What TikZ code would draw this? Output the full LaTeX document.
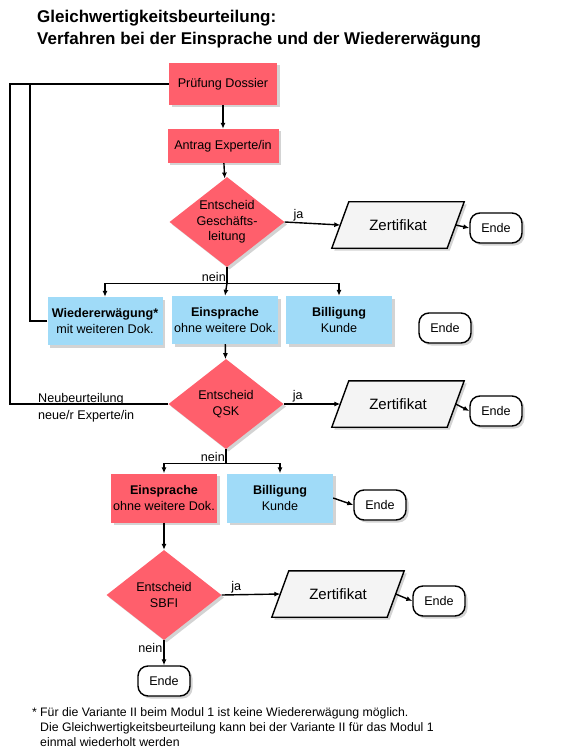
\documentclass[tikz,border=0pt]{standalone}
\usepackage{fontspec}
\setmainfont{Liberation Sans}
\definecolor{boxred}{RGB}{255,95,108}
\definecolor{boxblue}{RGB}{160,219,248}
\definecolor{docgray}{RGB}{244,244,244}
\usetikzlibrary{arrows.meta,positioning,shapes.geometric,shadows,backgrounds}
\newcommand{\bodyfont}{\fontsize{12.6}{15.5}\selectfont}

\begin{document}
\begin{tikzpicture}[x=1pt, y=-1pt,
      arr/.style={-{Latex[length=6pt,width=5pt]}, line width=1.4pt},
      plain/.style={line width=1.4pt},
      shade/.style={drop shadow={shadow xshift=2.5pt, shadow yshift=-2.5pt,
                    opacity=0.35}},
      redbox/.style={rectangle, fill=boxred, align=center, font=\bodyfont,
                     inner sep=2pt, shade},
      bluebox/.style={rectangle, fill=boxblue, align=center, font=\bodyfont,
                      inner sep=2pt, shade},
      decision/.style={diamond, fill=boxred, minimum width=115pt,
                       minimum height=90pt, inner sep=0pt, shade},
      dtext/.style={align=center, font=\bodyfont},
      docbox/.style={rectangle, minimum height=46pt, minimum width=115pt,
                     inner sep=0pt, font=\fontsize{15}{18}\selectfont},
      docline/.style={draw, line width=1.4pt, fill=docgray, shade},
      endbox/.style={rectangle, rounded corners=10pt, draw, line width=1.4pt,
                     fill=white, minimum width=52pt, minimum height=30pt,
                     inner sep=0pt, font=\bodyfont, shade},
      lbl/.style={font=\bodyfont, inner sep=1pt}
    ]
    \useasboundingbox (0,0) rectangle (569,751);
    % title
    \node[anchor=north west, inner sep=0pt, align=left,
          font=\fontsize{17}{22}\selectfont\bfseries] (title) at (37,10)
      {Gleichwertigkeitsbeurteilung:\\Verfahren bei der Einsprache und der Wiedererwägung};
    % first stage
    \node[redbox, minimum width=108pt, minimum height=42pt] (pruef) at (223,84) {Prüfung Dossier};
    \node[redbox, minimum width=111pt, minimum height=34pt] (antrag) at (223,146) {Antrag Experte/in};
    \node[decision, label={[dtext]center:Entscheid\\Geschäfts-\\leitung}] (gl) at (227,222) {};
    \node[docbox] (zert1) at (398,225) {Zertifikat};
    \node[endbox] (ende1) at (496,228) {Ende};
    \node[bluebox, minimum width=115pt, minimum height=48pt] (wieder) at (105,321)
      {\textbf{Wiedererwägung*}\\mit weiteren Dok.};
    \node[bluebox, minimum width=106pt, minimum height=48pt] (einsp1) at (225,320)
      {\textbf{Einsprache}\\ohne weitere Dok.};
    \node[bluebox, minimum width=106pt, minimum height=48pt] (bill1) at (339,320)
      {\textbf{Billigung}\\Kunde};
    \node[endbox] (ende2) at (445,328) {Ende};
    % second stage
    \node[decision, label={[dtext]center:Entscheid\\QSK}] (qsk) at (226,404) {};
    \node[docbox] (zert2) at (398,404) {Zertifikat};
    \node[endbox] (ende3) at (496,411) {Ende};
    \node[redbox, minimum width=106pt, minimum height=49pt] (einsp2) at (164,498) 
      {\textbf{Einsprache}\\ohne weitere Dok.};
    \node[bluebox, minimum width=106pt, minimum height=49pt] (bill2) at (280,498)
      {\textbf{Billigung}\\Kunde};
    \node[endbox] (ende4) at (380,505) {Ende};
    % third stage
    \node[decision, label={[dtext]center:Entscheid\\SBFI}] (sbfi) at (164,595) {};
    \node[docbox] (zert3) at (338,594) {Zertifikat};
    \node[endbox] (ende5) at (439,601) {Ende};
    \node[endbox] (ende6) at (164,681) {Ende};
    % parallelograms behind the Zertifikat texts
    \begin{scope}[on background layer]
      \foreach \z in {zert1,zert2,zert3}
        \path[docline] ([xshift=-8.5pt]\z.south west) -- ([xshift=-8.5pt]\z.south east)
          -- ([xshift=8.5pt]\z.north east) -- ([xshift=8.5pt]\z.north west) -- cycle;
    \end{scope}
    % back loops
    \coordinate (loopin) at (30,84);
    \coordinate (loopout) at (10,84);
    \draw[plain] (wieder.west) -| (loopin) -- (pruef.west);
    \draw[plain] (qsk.west) -| (loopout) -- (loopin);
    \node[lbl, anchor=south west] (neu1) at (37,406) {Neubeurteilung};
    \node[lbl, anchor=north west] (neu2) at (37,409) {neue/r Experte/in};
    % connectors
    \draw[arr] (pruef) -- (antrag);
    \draw[arr] (antrag) -- (gl);
    \draw[arr] (gl.east) -- node[lbl, above, pos=0.25] (ja1) {ja} (zert1.west);
    \draw[arr] (zert1.east) -- (ende1.west);
    \draw[plain] (gl.south) -- ++(0,16) coordinate (split1);
    \node[lbl, anchor=south east] (nein1) at (split1) {nein};
    \draw[arr] (split1) -| (wieder.north);
    \draw[arr] (split1) -| (bill1.north);
    \draw[arr] (split1) -- (einsp1.north);
    \draw[arr] (einsp1) -- (qsk);
    \draw[arr] (qsk.east) -- node[lbl, above, pos=0.25] (ja2) {ja} (zert2.west);
    \draw[arr] (zert2.east) -- (ende3.west);
    \draw[plain] (qsk.south) -- ++(0,14) coordinate (split2);
    \node[lbl, anchor=south east] (nein2) at (split2) {nein};
    \draw[arr] (split2) -| (einsp2.north);
    \draw[arr] (split2) -| (bill2.north);
    \draw[arr] (bill2.east) -- (ende4.west);
    \draw[arr] (einsp2) -- (sbfi);
    \draw[arr] (sbfi.east) -- node[lbl, above, pos=0.25] (ja3) {ja} (zert3.west);
    \draw[arr] (zert3.east) -- (ende5.west);
    \draw[arr] (sbfi.south) -- node[lbl, left, pos=0.3] (nein3) {nein} (ende6.north);
    % footnote
    \node[anchor=north west, inner sep=0pt, align=left,
          font=\fontsize{12.3}{15}\selectfont] (note) at (32,707)
      {\makebox[8pt][l]{*}Für die Variante II beim Modul 1 ist keine Wiedererwägung möglich.\\
       \hspace*{8pt}Die Gleichwertigkeitsbeurteilung kann bei der Variante II für das Modul 1\\
       \hspace*{8pt}einmal wiederholt werden};
  \end{tikzpicture}
\end{document}
